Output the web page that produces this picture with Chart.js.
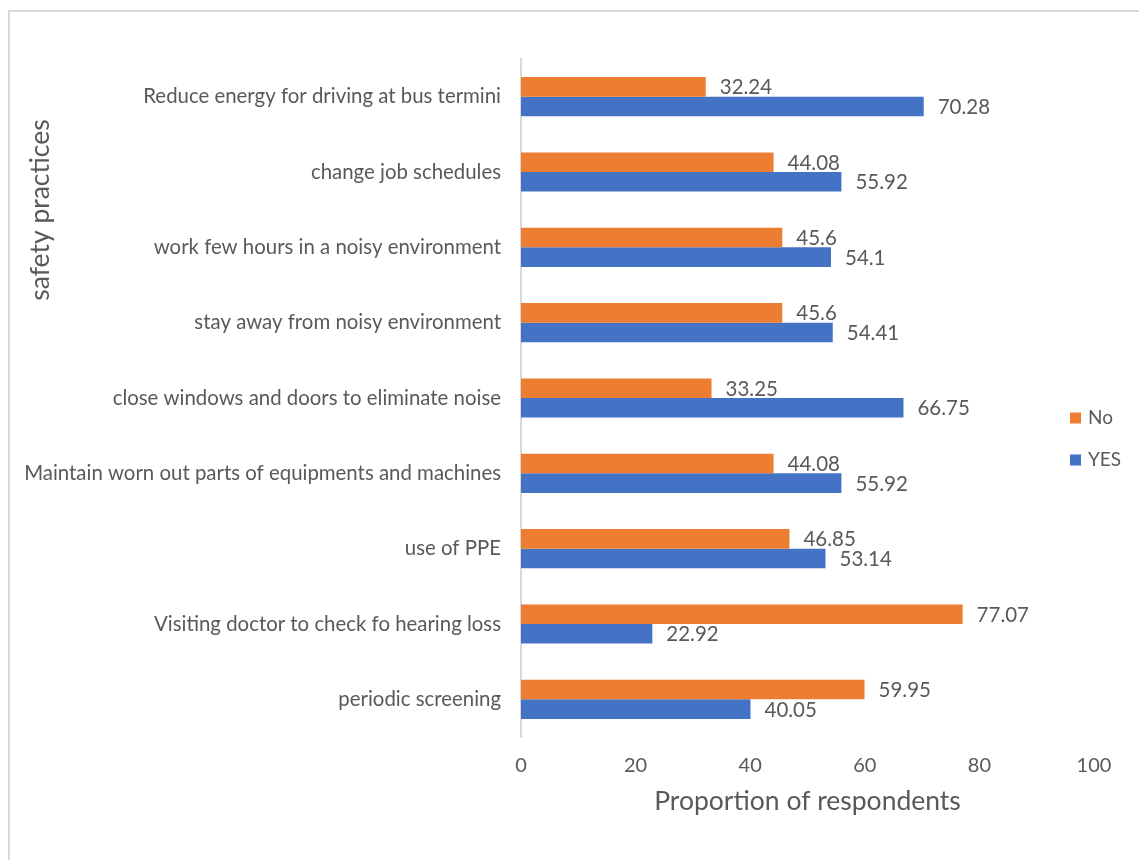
<!DOCTYPE html>
<html lang="en">
<head>
    <meta charset="UTF-8">
    <title>Safety practices</title>
    <style>
        body {
            margin: 0;
            width: 1139px;
            height: 860px;
            overflow: hidden;
            background: #ffffff;
            position: relative;
        }
        .frame {
            position: absolute;
            left: 8px;
            top: 10px;
            width: 1200px;
            height: 1000px;
            border: 2px solid #d9d9d9;
        }
        .wrap {
            position: absolute;
            left: 0;
            top: 0;
            width: 1139px;
            height: 860px;
        }
    </style>
</head>
<body>
    <div class="frame"></div>
    <div class="wrap">
        <canvas id="chart" width="1139" height="860"></canvas>
    </div>

    <script src="https://cdn.jsdelivr.net/npm/chart.js"></script>
    <script>
        // chart data
        const practices = [
            'Reduce energy for driving at bus termini',
            'change job schedules',
            'work few hours in a noisy environment',
            'stay away from noisy environment',
            'close windows and doors to eliminate noise',
            'Maintain worn out parts of equipments and machines',
            'use of PPE',
            'Visiting doctor to check fo hearing loss',
            'periodic screening'
        ];
        const noValues = [32.24, 44.08, 45.6, 45.6, 33.25, 44.08, 46.85, 77.07, 59.95];
        const yesValues = [70.28, 55.92, 54.1, 54.41, 66.75, 55.92, 53.14, 22.92, 40.05];
        const xTicks = [0, 20, 40, 60, 80, 100];

        const FONT = 'Lato, "Open Sans", sans-serif';
        const GREY = '#595959';

        // value labels to the right of each bar
        const barLabels = {
            id: 'barLabels',
            afterDatasetsDraw(chart) {
                const ctx = chart.ctx;
                ctx.save();
                ctx.font = '20.5px ' + FONT;
                ctx.fillStyle = GREY;
                ctx.textAlign = 'left';
                ctx.textBaseline = 'middle';
                chart.data.datasets.forEach((ds, i) => {
                    chart.getDatasetMeta(i).data.forEach((bar, j) => {
                        ctx.fillText(String(ds.data[j]), bar.x + 14, bar.y + 1);
                    });
                });
                ctx.restore();
            }
        };

        // rotated y title (sits high, like the original) and legend at the right
        const extras = {
            id: 'extras',
            afterDraw(chart) {
                const ctx = chart.ctx;
                const area = chart.chartArea;
                ctx.save();
                ctx.fillStyle = GREY;
                ctx.font = '26.5px ' + FONT;
                ctx.textAlign = 'center';
                ctx.textBaseline = 'middle';
                ctx.translate(40, area.top + 151);
                ctx.rotate(-Math.PI / 2);
                ctx.fillText('safety practices', 0, 0);
                ctx.restore();

                ctx.save();
                ctx.font = '19px ' + FONT;
                ctx.textAlign = 'left';
                ctx.textBaseline = 'middle';
                chart.data.datasets.forEach((ds, i) => {
                    const y = area.top + 359 + i * 42;
                    ctx.fillStyle = ds.backgroundColor;
                    ctx.fillRect(area.right - 24, y - 5.5, 11, 11);
                    ctx.fillStyle = GREY;
                    ctx.fillText(ds.label, area.right - 6, y);
                });
                ctx.restore();
            }
        };

        const ctx = document.getElementById('chart').getContext('2d');
        new Chart(ctx, {
            type: 'bar',
            data: {
                labels: practices,
                datasets: [{
                    label: 'No',
                    data: noValues,
                    backgroundColor: '#ed7d31',
                    categoryPercentage: 0.52,
                    barPercentage: 1.0
                }, {
                    label: 'YES',
                    data: yesValues,
                    backgroundColor: '#4472c4',
                    categoryPercentage: 0.52,
                    barPercentage: 1.0
                }]
            },
            options: {
                indexAxis: 'y',
                responsive: false,
                animation: false,
                layout: {
                    padding: { top: 59, right: 45, left: 0, bottom: 0 }
                },
                plugins: {
                    legend: { display: false },
                    tooltip: { enabled: false }
                },
                scales: {
                    x: {
                        min: 0,
                        max: 100,
                        afterBuildTicks: (scale) => {
                            scale.ticks = xTicks.map(v => ({ value: v }));
                        },
                        afterFit: (scale) => { scale.height = 123; },
                        grid: { display: false, drawTicks: false },
                        border: { display: false },
                        ticks: {
                            color: GREY,
                            font: { family: FONT, size: 20 },
                            padding: 17
                        },
                        title: {
                            display: true,
                            text: 'Proportion of respondents',
                            color: GREY,
                            font: { family: FONT, size: 26.5 },
                            padding: { top: 0, bottom: 43 }
                        }
                    },
                    y: {
                        afterFit: (scale) => { scale.width = 521; },
                        grid: { display: false, drawTicks: false },
                        border: { display: true, color: '#d9d9d9', width: 2 },
                        ticks: {
                            color: GREY,
                            font: { family: FONT, size: 20.4 },
                            padding: 20
                        }
                    }
                }
            },
            plugins: [barLabels, extras]
        });
    </script>
</body>
</html>
